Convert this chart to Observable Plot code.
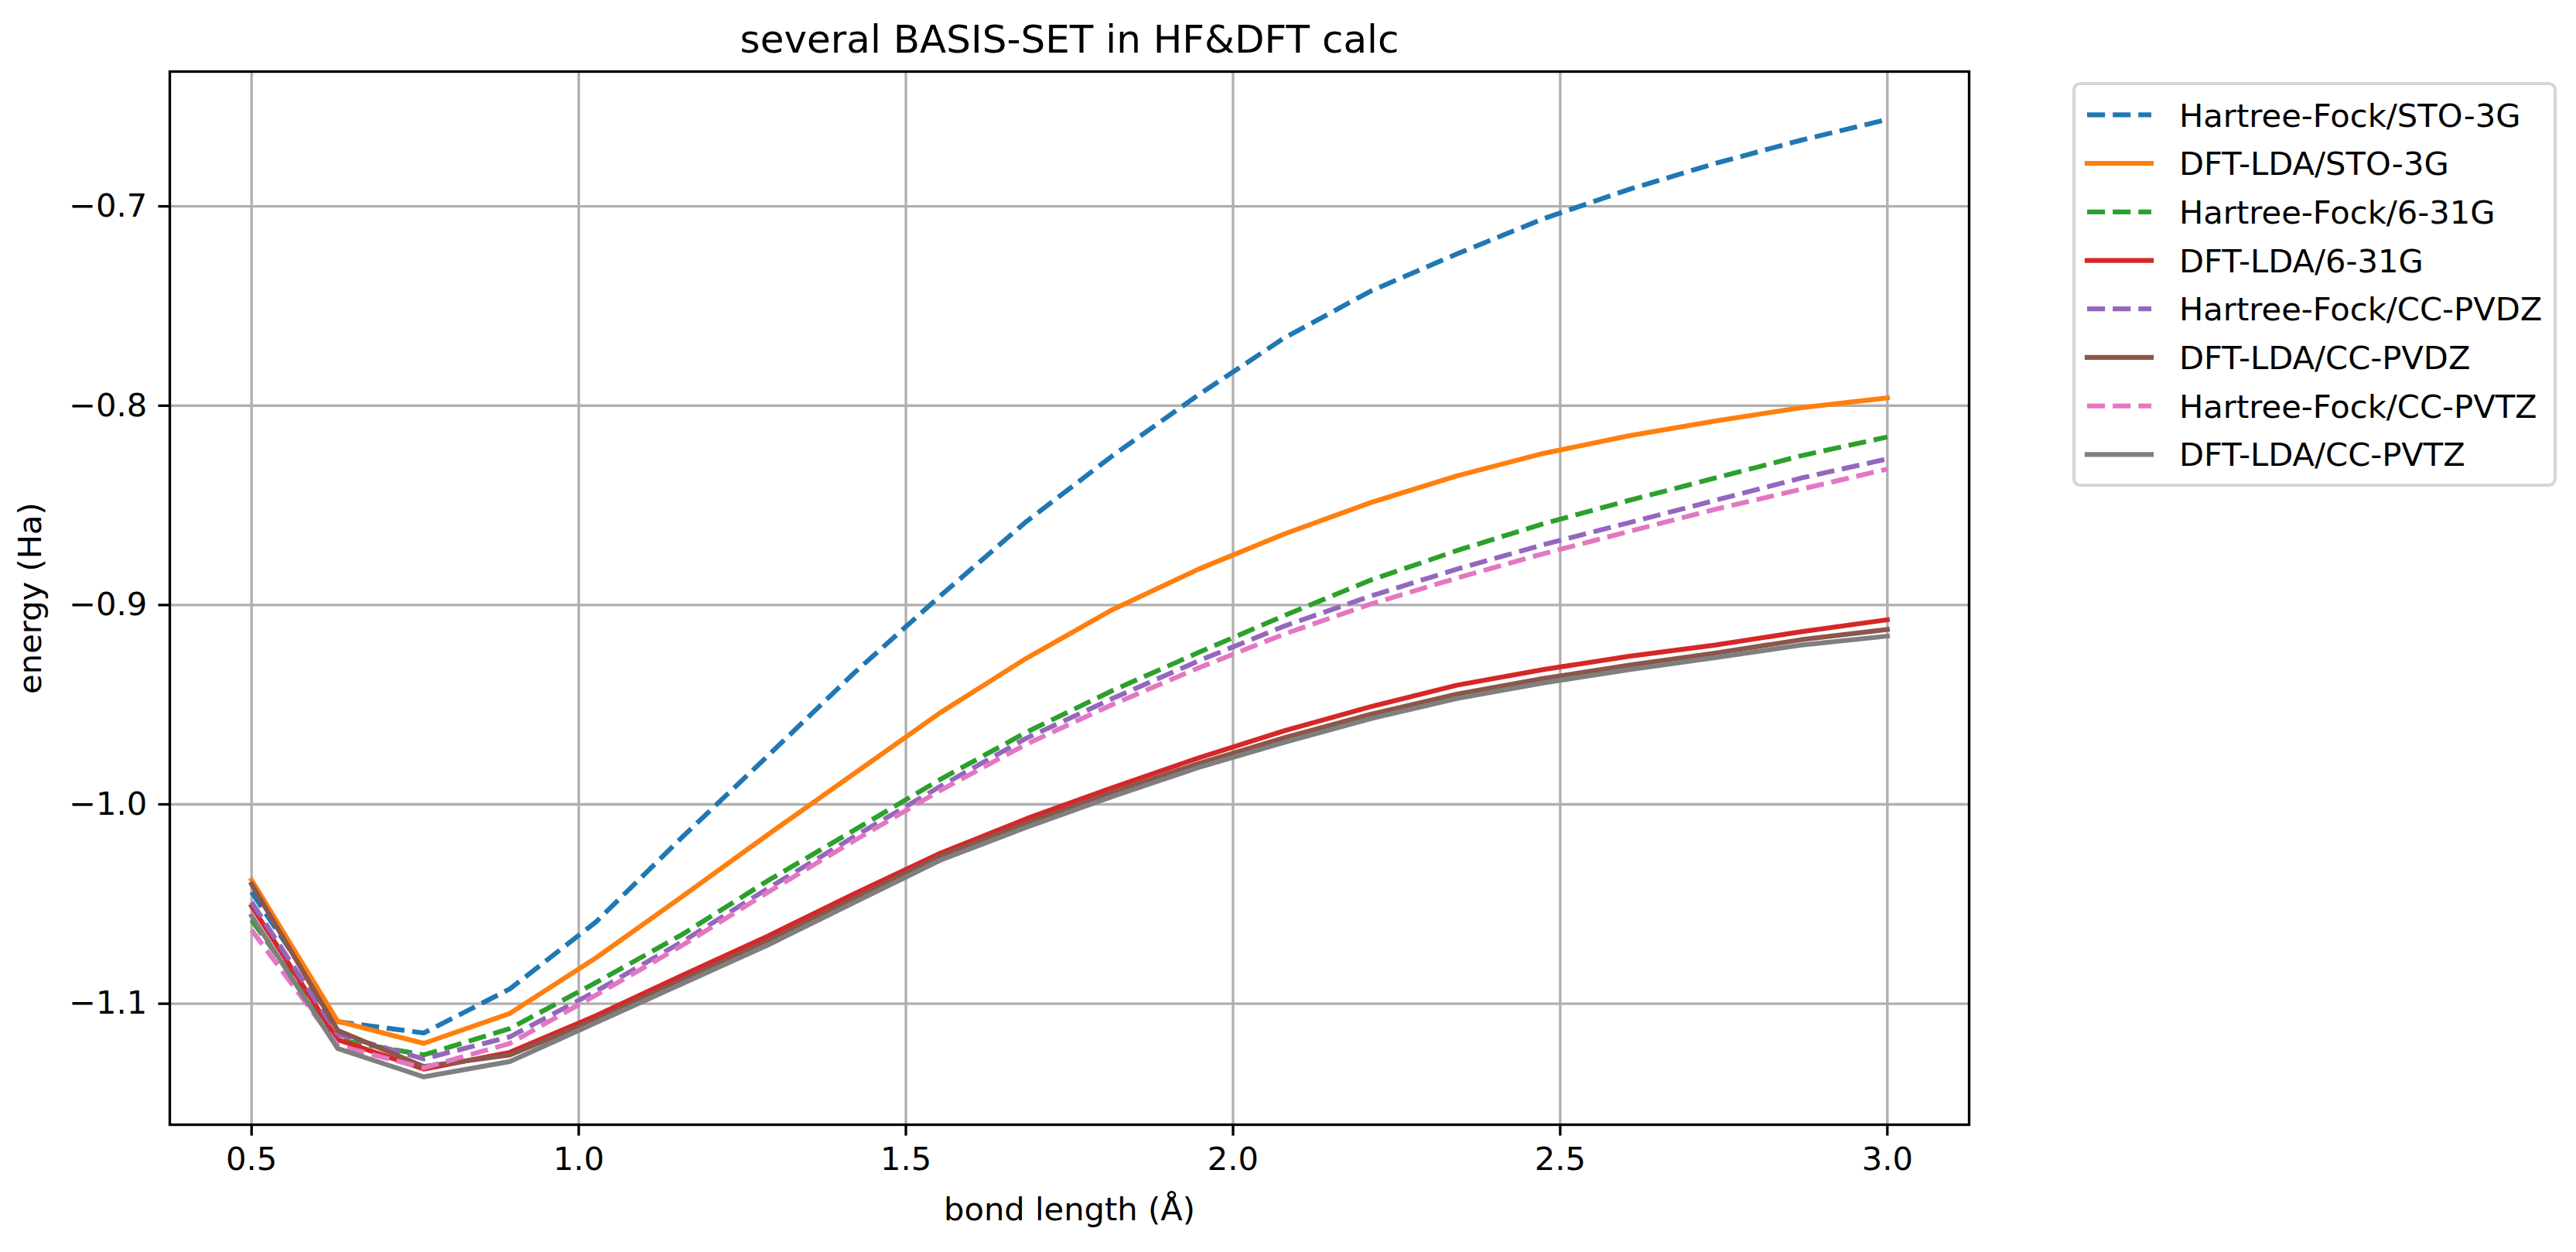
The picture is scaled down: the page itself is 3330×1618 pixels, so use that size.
<!DOCTYPE html>
<html>
<head>
<meta charset="utf-8">
<script src="https://cdn.jsdelivr.net/npm/d3@7"></script>
<script src="https://cdn.jsdelivr.net/npm/@observablehq/plot@0.6"></script>
<style>
  html, body { margin: 0; padding: 0; background: #ffffff; }
  #wrap { position: relative; width: 3330px; height: 1618px; font-family: "DejaVu Sans", sans-serif; }
  #wrap svg { display: block; }
  #legend { position: absolute; left: 0; top: 0; pointer-events: none; }
</style>
</head>
<body>
<div id="wrap"></div>
<script>
// ---- data ----
const bondLength = [0.5, 0.6316, 0.7632, 0.8947, 1.0263, 1.1579, 1.2895, 1.4211, 1.5526, 1.6842,
                    1.8158, 1.9474, 2.0789, 2.2105, 2.3421, 2.4737, 2.6053, 2.7368, 2.8684, 3.0];

const hfSto3g   = [-1.044, -1.109, -1.1147, -1.0926, -1.059, -1.0165, -0.9755, -0.934, -0.8954, -0.8581,
                   -0.8251, -0.7945, -0.7659, -0.7425, -0.7239, -0.7063, -0.6915, -0.6785, -0.6668, -0.6564];
const ldaSto3g  = [-1.038, -1.1088, -1.1199, -1.1049, -1.077, -1.0463, -1.0151, -0.9845, -0.954, -0.9267,
                   -0.9023, -0.882, -0.8643, -0.8486, -0.8352, -0.824, -0.8151, -0.8077, -0.801, -0.7961];
const hf631g    = [-1.058, -1.118, -1.1257, -1.1125, -1.0894, -1.0653, -1.0382, -1.0129, -0.9875, -0.9638,
                   -0.9429, -0.9238, -0.9052, -0.8875, -0.8727, -0.8593, -0.8475, -0.8363, -0.8251, -0.8157];
const lda631g   = [-1.051, -1.118, -1.1328, -1.1244, -1.106, -1.0858, -1.066, -1.0449, -1.0245, -1.0072,
                   -0.9916, -0.9767, -0.963, -0.951, -0.9402, -0.9324, -0.9257, -0.9201, -0.9134, -0.9074];
const hfPvdz    = [-1.049, -1.1153, -1.1277, -1.1166, -1.0938, -1.069, -1.0421, -1.0162, -0.991, -0.9668,
                   -0.9469, -0.928, -0.9105, -0.8955, -0.882, -0.8698, -0.8587, -0.8475, -0.8363, -0.8267];
const ldaPvdz   = [-1.040, -1.1134, -1.1315, -1.1257, -1.108, -1.088, -1.0685, -1.0472, -1.026, -1.0095,
                   -0.994, -0.9795, -0.9665, -0.9548, -0.9447, -0.9369, -0.9302, -0.9241, -0.9174, -0.9123];
const hfPvtz    = [-1.063, -1.121, -1.1322, -1.1199, -1.0957, -1.0708, -1.044, -1.0182, -0.993, -0.9698,
                   -0.9499, -0.9315, -0.9145, -0.8995, -0.8865, -0.8743, -0.8631, -0.852, -0.8419, -0.8318];
const ldaPvtz   = [-1.056, -1.1225, -1.1367, -1.129, -1.1095, -1.09, -1.0705, -1.0492, -1.028, -1.0115,
                   -0.996, -0.9815, -0.9688, -0.957, -0.9469, -0.9391, -0.9324, -0.9264, -0.9201, -0.9156];

const seriesNames  = ["Hartree-Fock/STO-3G", "DFT-LDA/STO-3G", "Hartree-Fock/6-31G", "DFT-LDA/6-31G",
                      "Hartree-Fock/CC-PVDZ", "DFT-LDA/CC-PVDZ", "Hartree-Fock/CC-PVTZ", "DFT-LDA/CC-PVTZ"];
const seriesValues = [hfSto3g, ldaSto3g, hf631g, lda631g, hfPvdz, ldaPvdz, hfPvtz, ldaPvtz];
const seriesColors = ["#1f77b4", "#ff7f0e", "#2ca02c", "#d62728", "#9467bd", "#8c564b", "#e377c2", "#7f7f7f"];
const seriesDashed = [true, false, true, false, true, false, true, false];

const xTicks = [0.5, 1.0, 1.5, 2.0, 2.5, 3.0];
const yTicks = [-1.1, -1.0, -0.9, -0.8, -0.7];

const titleText = "several BASIS-SET in HF&DFT calc";
const xLabel = "bond length (Å)";
const yLabel = "energy (Ha)";

// ---- styling ----
const W = 3330, H = 1618;
const mL = 219, mR = 785, mT = 92, mB = 165;
const PX = 300 / 72;            // points -> px at 300 dpi
const FS = 10 * PX;             // 41.67
const LW = 1.5 * PX;            // line width
const AW = 0.8 * PX;            // axis / grid width
const DASH = `${3.7 * LW},${1.6 * LW}`;

const rows = seriesNames.map((name, i) => ({
  name, color: seriesColors[i], dashed: seriesDashed[i],
  points: bondLength.map((x, j) => ({x, y: seriesValues[i][j]}))
}));

const fmt = d3.format(".1f");

const lineMarks = rows.map(r => Plot.line(r.points, {
  x: "x", y: "y",
  stroke: r.color,
  strokeWidth: LW,
  strokeDasharray: r.dashed ? DASH : null,
  strokeLinejoin: "round",
  strokeLinecap: r.dashed ? "butt" : "square",
  curve: "linear"
}));

const chart = Plot.plot({
  width: W, height: H,
  marginLeft: mL, marginRight: mR, marginTop: mT, marginBottom: mB,
  style: { fontFamily: "DejaVu Sans", fontSize: `${FS}px`, color: "#000", background: "#fff", overflow: "visible" },
  x: { domain: [0.375, 3.125] },
  y: { domain: [-1.1607, -0.6324] },
  marks: [
    Plot.gridX(xTicks, { stroke: "#b0b0b0", strokeOpacity: 1, strokeWidth: AW }),
    Plot.gridY(yTicks, { stroke: "#b0b0b0", strokeOpacity: 1, strokeWidth: AW }),
    ...lineMarks,
    Plot.frame({ stroke: "#000", strokeWidth: AW }),
    Plot.axisX(xTicks, {
      tickFormat: fmt, tickSize: 3.5 * PX, tickPadding: 3.5 * PX, strokeWidth: AW,
      fontSize: FS, label: xLabel, labelAnchor: "center", labelOffset: 123, labelArrow: "none"
    }),
    Plot.axisY(yTicks, {
      tickFormat: fmt, tickSize: 3.5 * PX, tickPadding: 3.5 * PX, strokeWidth: AW,
      fontSize: FS, label: yLabel, labelAnchor: "center", labelOffset: 196, labelArrow: "none"
    }),
    Plot.text([titleText], {
      text: d => d, frameAnchor: "top", lineAnchor: "bottom", dy: -25, fontSize: 12 * PX, fill: "#000"
    })
  ]
});

const wrap = document.getElementById("wrap");
wrap.appendChild(chart);

// ---- legend (matplotlib style, upper left outside the axes) ----
const leg = d3.select(wrap).append("svg")
  .attr("id", "legend").attr("width", W).attr("height", H)
  .attr("font-family", "DejaVu Sans").attr("font-size", FS);

const boxX = 2681, boxY = 108, rowY0 = 148.4, rowStep = 62.7;
const handleX0 = 2698, handleX1 = 2781, textX = 2817;

const frameRect = leg.append("rect")
  .attr("x", boxX).attr("y", boxY).attr("rx", 8).attr("ry", 8)
  .attr("height", 627 - boxY)
  .attr("fill", "rgba(255,255,255,0.8)")
  .attr("stroke", "#d6d6d6").attr("stroke-width", 1.0 * PX);

let maxEnd = 0;
rows.forEach((r, i) => {
  const cy = rowY0 + i * rowStep;
  leg.append("line")
    .attr("x1", handleX0).attr("x2", handleX1).attr("y1", cy).attr("y2", cy)
    .attr("stroke", r.color).attr("stroke-width", LW)
    .attr("stroke-dasharray", r.dashed ? DASH : null)
    .attr("stroke-linecap", r.dashed ? "butt" : "square");
  const t = leg.append("text")
    .attr("x", textX).attr("y", cy + 0.364 * FS)
    .attr("fill", "#000").text(r.name);
  maxEnd = Math.max(maxEnd, textX + t.node().getComputedTextLength());
});
frameRect.attr("width", maxEnd + 0.4 * FS - boxX);
</script>
</body>
</html>
